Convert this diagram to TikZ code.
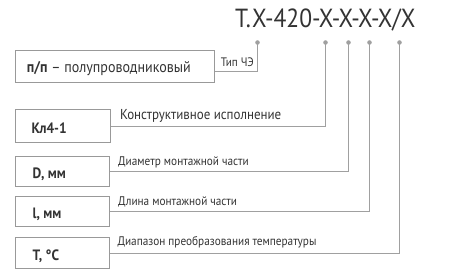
\documentclass[tikz,border=0pt]{standalone}
\usepackage{fontspec}
\setmainfont{PT Sans}
\newfontfamily\condfont[FakeStretch=0.9]{PT Sans}
\definecolor{txt}{HTML}{333333}
\definecolor{ln}{HTML}{A0A0A0}
\definecolor{bx}{HTML}{999999}
\begin{document}
\begin{tikzpicture}[x=1pt,y=-1pt,
  box/.style={draw=bx,line width=0.9pt,rectangle,anchor=north west,inner xsep=0pt,inner ysep=0pt,align=left,text=txt},
  conn/.style={draw=ln,line width=0.9pt},
  dot/.style={circle,fill=ln,inner sep=0pt,minimum size=4.2pt},
  lbl/.style={anchor=base west,inner sep=0pt,text=txt,font=\condfont\fontsize{12.5}{14}\selectfont},
  boxtext/.style={anchor=base west,inner sep=0pt,text=txt,font=\condfont\bfseries\fontsize{15}{17}\selectfont}
]
\useasboundingbox (0,0) rectangle (450,277);
% title
\node[anchor=base west,inner sep=0pt,text=txt,font=\condfont\fontsize{26.2}{29}\selectfont] (title) at (235,27.7) {Т.Х-420-Х-Х-Х-Х/Х};
% dots
\node[dot] (d1) at (257.5,42.5) {};
\node[dot] (d2) at (325.5,42.5) {};
\node[dot] (d3) at (348.5,42.5) {};
\node[dot] (d4) at (369.5,42.5) {};
\node[dot] (d5) at (399.5,42.5) {};
% boxes
\node[box,minimum width=199pt,minimum height=32pt] (b1) at (15,50) {};
\node[box,minimum width=95pt,minimum height=33pt] (b2) at (15,109) {};
\node[box,minimum width=94pt,minimum height=30pt] (b3) at (15,156) {};
\node[box,minimum width=94pt,minimum height=30pt] (b4) at (15,196) {};
\node[box,minimum width=94pt,minimum height=31pt] (b5) at (15,237) {};
% box texts
\node[anchor=base west,inner sep=0pt,text=txt,font=\condfont\fontsize{15.6}{17}\selectfont] (t1) at (26.7,72.7) {\textbf{п/п} – полупроводниковый};
\node[boxtext] (t2) at (31.5,133.3) {Кл4-1};
\node[boxtext] (t3) at (32.5,178.3) {D, мм};
\node[boxtext] (t4) at (32.5,218.3) {l, мм};
\node[boxtext] (t5) at (32.5,260) {T, °C};
% labels
\node[anchor=base west,inner sep=0pt,text=txt,font=\condfont\fontsize{12.3}{14}\selectfont] (l1) at (220.7,66) {Тип ЧЭ};
\node[lbl,font=\condfont\fontsize{14.4}{16}\selectfont] (l2) at (120,119.3) {Конструктивное исполнение};
\node[lbl] (l3) at (118,165) {Диаметр монтажной части};
\node[lbl] (l4) at (118,205) {Длина монтажной части};
\node[lbl] (l5) at (117.3,245.5) {Диапазон преобразования температуры};
% connectors
\draw[conn] ([yshift=-5pt]b1.east) -| (d1.center);
\draw[conn] (b2.east) -| (d2.center);
\draw[conn] (b3.east) -| (d3.center);
\draw[conn] (b4.east) -| (d4.center);
\draw[conn] (b5.east) -| (d5.center);
\node[dot] at (d1) {};
\node[dot] at (d2) {};
\node[dot] at (d3) {};
\node[dot] at (d4) {};
\node[dot] at (d5) {};
\end{tikzpicture}
\end{document}
